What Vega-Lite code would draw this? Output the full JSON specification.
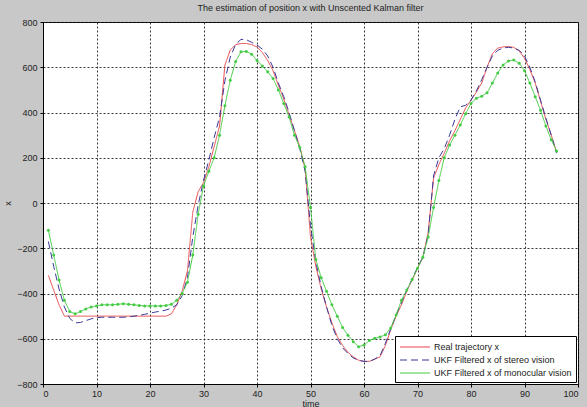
{
  "$schema": "https://vega.github.io/schema/vega-lite/v6.json",
  "width": 535,
  "height": 362,
  "autosize": {"type": "none"},
  "padding": {"left": 43, "top": 22, "right": 9, "bottom": 23},
  "background": "#c8c8c8",
  "title": {"text": "The estimation of position x with Unscented Kalman filter", "fontSize": 9, "font": "Liberation Sans", "fontWeight": "normal", "color": "#222", "offset": 5, "anchor": "middle"},
  "config": {
    "view": {"fill": "white", "stroke": "black", "strokeWidth": 1},
    "axis": {
      "labelFont": "Liberation Sans", "labelFontSize": 9, "labelColor": "#222",
      "titleFont": "Liberation Sans", "titleFontSize": 9, "titleFontWeight": "normal", "titleColor": "#222",
      "domainColor": "black", "tickColor": "black", "tickSize": 3,
      "gridColor": "#222", "gridDash": [2, 2], "gridWidth": 1, "gridOpacity": 0.9
    },
    "legend": {
      "orient": "bottom-right", "offset": 2, "symbolType": "M-1,0H4", "symbolSize": 144, "symbolStrokeWidth": 1.2,
      "labelFont": "Liberation Sans", "labelFontSize": 9, "labelColor": "#222", "rowPadding": 1,
      "strokeColor": "black", "fillColor": "white", "padding": 4, "labelOffset": 21, "symbolOffset": 0
    }
  },
  "data": {"values": [
    {"t":1,"Real trajectory x":-320,"UKF Filtered x of stereo vision":-170,"UKF Filtered x of monocular vision":-120},
    {"t":2,"Real trajectory x":-385,"UKF Filtered x of stereo vision":-280,"UKF Filtered x of monocular vision":-230},
    {"t":3,"Real trajectory x":-450,"UKF Filtered x of stereo vision":-380,"UKF Filtered x of monocular vision":-340},
    {"t":4,"Real trajectory x":-500,"UKF Filtered x of stereo vision":-460,"UKF Filtered x of monocular vision":-430},
    {"t":5,"Real trajectory x":-500,"UKF Filtered x of stereo vision":-510,"UKF Filtered x of monocular vision":-480},
    {"t":6,"Real trajectory x":-500,"UKF Filtered x of stereo vision":-530,"UKF Filtered x of monocular vision":-490},
    {"t":7,"Real trajectory x":-500,"UKF Filtered x of stereo vision":-528,"UKF Filtered x of monocular vision":-480},
    {"t":8,"Real trajectory x":-500,"UKF Filtered x of stereo vision":-520,"UKF Filtered x of monocular vision":-468},
    {"t":9,"Real trajectory x":-500,"UKF Filtered x of stereo vision":-512,"UKF Filtered x of monocular vision":-460},
    {"t":10,"Real trajectory x":-500,"UKF Filtered x of stereo vision":-507,"UKF Filtered x of monocular vision":-455},
    {"t":11,"Real trajectory x":-500,"UKF Filtered x of stereo vision":-505,"UKF Filtered x of monocular vision":-450},
    {"t":12,"Real trajectory x":-500,"UKF Filtered x of stereo vision":-505,"UKF Filtered x of monocular vision":-450},
    {"t":13,"Real trajectory x":-500,"UKF Filtered x of stereo vision":-505,"UKF Filtered x of monocular vision":-450},
    {"t":14,"Real trajectory x":-500,"UKF Filtered x of stereo vision":-505,"UKF Filtered x of monocular vision":-448},
    {"t":15,"Real trajectory x":-500,"UKF Filtered x of stereo vision":-505,"UKF Filtered x of monocular vision":-445},
    {"t":16,"Real trajectory x":-500,"UKF Filtered x of stereo vision":-503,"UKF Filtered x of monocular vision":-448},
    {"t":17,"Real trajectory x":-500,"UKF Filtered x of stereo vision":-500,"UKF Filtered x of monocular vision":-450},
    {"t":18,"Real trajectory x":-500,"UKF Filtered x of stereo vision":-497,"UKF Filtered x of monocular vision":-453},
    {"t":19,"Real trajectory x":-500,"UKF Filtered x of stereo vision":-492,"UKF Filtered x of monocular vision":-455},
    {"t":20,"Real trajectory x":-500,"UKF Filtered x of stereo vision":-487,"UKF Filtered x of monocular vision":-455},
    {"t":21,"Real trajectory x":-500,"UKF Filtered x of stereo vision":-482,"UKF Filtered x of monocular vision":-455},
    {"t":22,"Real trajectory x":-500,"UKF Filtered x of stereo vision":-478,"UKF Filtered x of monocular vision":-455},
    {"t":23,"Real trajectory x":-500,"UKF Filtered x of stereo vision":-473,"UKF Filtered x of monocular vision":-453},
    {"t":24,"Real trajectory x":-490,"UKF Filtered x of stereo vision":-465,"UKF Filtered x of monocular vision":-448},
    {"t":25,"Real trajectory x":-450,"UKF Filtered x of stereo vision":-450,"UKF Filtered x of monocular vision":-430},
    {"t":26,"Real trajectory x":-390,"UKF Filtered x of stereo vision":-410,"UKF Filtered x of monocular vision":-400},
    {"t":27,"Real trajectory x":-300,"UKF Filtered x of stereo vision":-330,"UKF Filtered x of monocular vision":-350},
    {"t":28,"Real trajectory x":-40,"UKF Filtered x of stereo vision":-150,"UKF Filtered x of monocular vision":-230},
    {"t":29,"Real trajectory x":50,"UKF Filtered x of stereo vision":-10,"UKF Filtered x of monocular vision":-50},
    {"t":30,"Real trajectory x":90,"UKF Filtered x of stereo vision":100,"UKF Filtered x of monocular vision":75},
    {"t":31,"Real trajectory x":160,"UKF Filtered x of stereo vision":190,"UKF Filtered x of monocular vision":140},
    {"t":32,"Real trajectory x":250,"UKF Filtered x of stereo vision":290,"UKF Filtered x of monocular vision":200},
    {"t":33,"Real trajectory x":340,"UKF Filtered x of stereo vision":380,"UKF Filtered x of monocular vision":300},
    {"t":34,"Real trajectory x":610,"UKF Filtered x of stereo vision":540,"UKF Filtered x of monocular vision":430},
    {"t":35,"Real trajectory x":676,"UKF Filtered x of stereo vision":645,"UKF Filtered x of monocular vision":543},
    {"t":36,"Real trajectory x":700,"UKF Filtered x of stereo vision":700,"UKF Filtered x of monocular vision":625},
    {"t":37,"Real trajectory x":705,"UKF Filtered x of stereo vision":723,"UKF Filtered x of monocular vision":668},
    {"t":38,"Real trajectory x":705,"UKF Filtered x of stereo vision":722,"UKF Filtered x of monocular vision":670},
    {"t":39,"Real trajectory x":700,"UKF Filtered x of stereo vision":710,"UKF Filtered x of monocular vision":658},
    {"t":40,"Real trajectory x":690,"UKF Filtered x of stereo vision":698,"UKF Filtered x of monocular vision":630},
    {"t":41,"Real trajectory x":665,"UKF Filtered x of stereo vision":680,"UKF Filtered x of monocular vision":605},
    {"t":42,"Real trajectory x":630,"UKF Filtered x of stereo vision":650,"UKF Filtered x of monocular vision":580},
    {"t":43,"Real trajectory x":585,"UKF Filtered x of stereo vision":600,"UKF Filtered x of monocular vision":550},
    {"t":44,"Real trajectory x":520,"UKF Filtered x of stereo vision":530,"UKF Filtered x of monocular vision":500},
    {"t":45,"Real trajectory x":460,"UKF Filtered x of stereo vision":470,"UKF Filtered x of monocular vision":440},
    {"t":46,"Real trajectory x":390,"UKF Filtered x of stereo vision":400,"UKF Filtered x of monocular vision":380},
    {"t":47,"Real trajectory x":320,"UKF Filtered x of stereo vision":320,"UKF Filtered x of monocular vision":300},
    {"t":48,"Real trajectory x":250,"UKF Filtered x of stereo vision":240,"UKF Filtered x of monocular vision":245},
    {"t":49,"Real trajectory x":150,"UKF Filtered x of stereo vision":140,"UKF Filtered x of monocular vision":160},
    {"t":50,"Real trajectory x":-150,"UKF Filtered x of stereo vision":-100,"UKF Filtered x of monocular vision":-20},
    {"t":51,"Real trajectory x":-280,"UKF Filtered x of stereo vision":-260,"UKF Filtered x of monocular vision":-250},
    {"t":52,"Real trajectory x":-380,"UKF Filtered x of stereo vision":-370,"UKF Filtered x of monocular vision":-330},
    {"t":53,"Real trajectory x":-460,"UKF Filtered x of stereo vision":-460,"UKF Filtered x of monocular vision":-390},
    {"t":54,"Real trajectory x":-530,"UKF Filtered x of stereo vision":-540,"UKF Filtered x of monocular vision":-450},
    {"t":55,"Real trajectory x":-590,"UKF Filtered x of stereo vision":-600,"UKF Filtered x of monocular vision":-500},
    {"t":56,"Real trajectory x":-630,"UKF Filtered x of stereo vision":-640,"UKF Filtered x of monocular vision":-550},
    {"t":57,"Real trajectory x":-660,"UKF Filtered x of stereo vision":-665,"UKF Filtered x of monocular vision":-585},
    {"t":58,"Real trajectory x":-680,"UKF Filtered x of stereo vision":-685,"UKF Filtered x of monocular vision":-613},
    {"t":59,"Real trajectory x":-695,"UKF Filtered x of stereo vision":-695,"UKF Filtered x of monocular vision":-635},
    {"t":60,"Real trajectory x":-700,"UKF Filtered x of stereo vision":-700,"UKF Filtered x of monocular vision":-628},
    {"t":61,"Real trajectory x":-700,"UKF Filtered x of stereo vision":-700,"UKF Filtered x of monocular vision":-608},
    {"t":62,"Real trajectory x":-690,"UKF Filtered x of stereo vision":-690,"UKF Filtered x of monocular vision":-598},
    {"t":63,"Real trajectory x":-680,"UKF Filtered x of stereo vision":-675,"UKF Filtered x of monocular vision":-592},
    {"t":64,"Real trajectory x":-630,"UKF Filtered x of stereo vision":-620,"UKF Filtered x of monocular vision":-582},
    {"t":65,"Real trajectory x":-560,"UKF Filtered x of stereo vision":-555,"UKF Filtered x of monocular vision":-552},
    {"t":66,"Real trajectory x":-500,"UKF Filtered x of stereo vision":-495,"UKF Filtered x of monocular vision":-495},
    {"t":67,"Real trajectory x":-450,"UKF Filtered x of stereo vision":-440,"UKF Filtered x of monocular vision":-430},
    {"t":68,"Real trajectory x":-390,"UKF Filtered x of stereo vision":-385,"UKF Filtered x of monocular vision":-384},
    {"t":69,"Real trajectory x":-340,"UKF Filtered x of stereo vision":-335,"UKF Filtered x of monocular vision":-338},
    {"t":70,"Real trajectory x":-290,"UKF Filtered x of stereo vision":-285,"UKF Filtered x of monocular vision":-288},
    {"t":71,"Real trajectory x":-240,"UKF Filtered x of stereo vision":-240,"UKF Filtered x of monocular vision":-240},
    {"t":72,"Real trajectory x":-130,"UKF Filtered x of stereo vision":-140,"UKF Filtered x of monocular vision":-150},
    {"t":73,"Real trajectory x":110,"UKF Filtered x of stereo vision":120,"UKF Filtered x of monocular vision":-20},
    {"t":74,"Real trajectory x":170,"UKF Filtered x of stereo vision":200,"UKF Filtered x of monocular vision":100},
    {"t":75,"Real trajectory x":220,"UKF Filtered x of stereo vision":240,"UKF Filtered x of monocular vision":200},
    {"t":76,"Real trajectory x":275,"UKF Filtered x of stereo vision":300,"UKF Filtered x of monocular vision":256},
    {"t":77,"Real trajectory x":320,"UKF Filtered x of stereo vision":370,"UKF Filtered x of monocular vision":300},
    {"t":78,"Real trajectory x":370,"UKF Filtered x of stereo vision":425,"UKF Filtered x of monocular vision":345},
    {"t":79,"Real trajectory x":420,"UKF Filtered x of stereo vision":432,"UKF Filtered x of monocular vision":395},
    {"t":80,"Real trajectory x":455,"UKF Filtered x of stereo vision":455,"UKF Filtered x of monocular vision":440},
    {"t":81,"Real trajectory x":490,"UKF Filtered x of stereo vision":495,"UKF Filtered x of monocular vision":463},
    {"t":82,"Real trajectory x":530,"UKF Filtered x of stereo vision":545,"UKF Filtered x of monocular vision":472},
    {"t":83,"Real trajectory x":600,"UKF Filtered x of stereo vision":600,"UKF Filtered x of monocular vision":487},
    {"t":84,"Real trajectory x":660,"UKF Filtered x of stereo vision":650,"UKF Filtered x of monocular vision":530},
    {"t":85,"Real trajectory x":685,"UKF Filtered x of stereo vision":675,"UKF Filtered x of monocular vision":575},
    {"t":86,"Real trajectory x":690,"UKF Filtered x of stereo vision":685,"UKF Filtered x of monocular vision":610},
    {"t":87,"Real trajectory x":692,"UKF Filtered x of stereo vision":688,"UKF Filtered x of monocular vision":628},
    {"t":88,"Real trajectory x":688,"UKF Filtered x of stereo vision":685,"UKF Filtered x of monocular vision":632},
    {"t":89,"Real trajectory x":672,"UKF Filtered x of stereo vision":675,"UKF Filtered x of monocular vision":618},
    {"t":90,"Real trajectory x":640,"UKF Filtered x of stereo vision":650,"UKF Filtered x of monocular vision":585},
    {"t":91,"Real trajectory x":590,"UKF Filtered x of stereo vision":600,"UKF Filtered x of monocular vision":530},
    {"t":92,"Real trajectory x":530,"UKF Filtered x of stereo vision":535,"UKF Filtered x of monocular vision":470},
    {"t":93,"Real trajectory x":450,"UKF Filtered x of stereo vision":455,"UKF Filtered x of monocular vision":410},
    {"t":94,"Real trajectory x":370,"UKF Filtered x of stereo vision":375,"UKF Filtered x of monocular vision":340},
    {"t":95,"Real trajectory x":300,"UKF Filtered x of stereo vision":300,"UKF Filtered x of monocular vision":280},
    {"t":96,"Real trajectory x":225,"UKF Filtered x of stereo vision":220,"UKF Filtered x of monocular vision":230}
  ]},
  "transform": [
    {"fold": ["Real trajectory x", "UKF Filtered x of stereo vision", "UKF Filtered x of monocular vision"], "as": ["series", "value"]}
  ],
  "encoding": {
    "x": {"field": "t", "type": "quantitative", "title": "time",
      "scale": {"domain": [0, 100], "nice": false, "zero": false},
      "axis": {"values": [0,10,20,30,40,50,60,70,80,90,100], "grid": true, "labelPadding": 2, "titlePadding": 1}},
    "y": {"field": "value", "type": "quantitative", "title": "x",
      "scale": {"domain": [-800, 800], "nice": false},
      "axis": {"values": [-800,-600,-400,-200,0,200,400,600,800], "grid": true, "labelPadding": 3, "titlePadding": 4}}
  },
  "layer": [
    {
      "mark": {"type": "line", "strokeWidth": 1, "interpolate": "linear"},
      "encoding": {
        "color": {"field": "series", "type": "nominal",
          "scale": {"domain": ["Real trajectory x", "UKF Filtered x of stereo vision", "UKF Filtered x of monocular vision"], "range": ["#e8454a", "#3a3a9a", "#44cc44"]},
          "legend": {"title": null}},
        "strokeDash": {"field": "series", "type": "nominal",
          "scale": {"domain": ["Real trajectory x", "UKF Filtered x of stereo vision", "UKF Filtered x of monocular vision"], "range": [[1, 0], [7, 4], [1, 0]]},
          "legend": {"title": null}},
        "order": {"field": "t"}
      }
    },
    {
      "transform": [{"filter": "datum.series === 'UKF Filtered x of monocular vision'"}],
      "mark": {"type": "point", "filled": true, "size": 9, "color": "#44cc44", "opacity": 1}
    }
  ]
}
